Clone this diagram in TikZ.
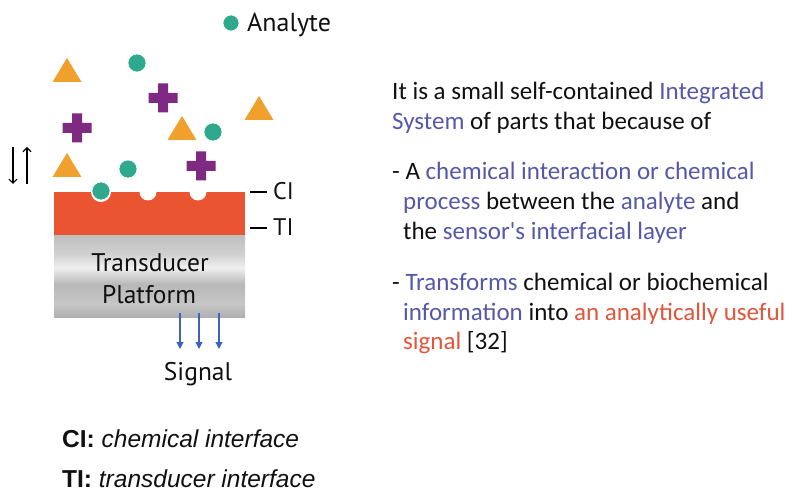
\documentclass[tikz,border=0pt]{standalone}
\usepackage{fontspec}
\setmainfont{PT Sans}
\newfontfamily\arialf{Liberation Sans}
\newfontfamily\calf{Carlito}
\usetikzlibrary{arrows.meta}
\definecolor{tealc}{HTML}{2EA98E}
\definecolor{orangec}{HTML}{F0A02C}
\definecolor{purplec}{HTML}{7E2A82}
\definecolor{redlayer}{HTML}{EA5430}
\definecolor{txtblue}{HTML}{5558A8}
\definecolor{txtred}{HTML}{E2553A}
\definecolor{txtblack}{HTML}{101010}
\definecolor{sigblue}{HTML}{3F62C0}
\pgfdeclareverticalshading{platformshade}{100bp}{
  color(0bp)=(black!26);
  color(21bp)=(black!36);
  color(33bp)=(black!22);
  color(45bp)=(black!28);
  color(55bp)=(black!6);
  color(63bp)=(black!18);
  color(82bp)=(black!30);
  color(100bp)=(black!36)}
\tikzset{
  x=1pt,y=-1pt,
  analyte/.style={circle,fill=tealc,draw=white,line width=0.6pt,minimum size=18pt,inner sep=0pt},
  triangleshape/.pic={\fill[orangec] (-14.5,12) -- (14.5,12) -- (0,-12) -- cycle;},
  plusshape/.pic={\fill[purplec] (-5,-14.5) -- (5,-14.5) -- (5,-5) -- (14.5,-5) -- (14.5,5) -- (5,5) -- (5,14.5) -- (-5,14.5) -- (-5,5) -- (-14.5,5) -- (-14.5,-5) -- (-5,-5) -- cycle;},
  maintext/.style={anchor=base west,inner sep=0pt,font=\calf\fontsize{25}{28}\selectfont,text=txtblack},
  lbl/.style={anchor=base west,inner sep=0pt,font=\fontsize{24}{27}\selectfont,text=txtblack},
  bigtxt/.style={anchor=base,inner sep=0pt,font=\fontsize{25.5}{28}\selectfont,text=txtblack},
  legtxt/.style={anchor=base west,inner sep=0pt,font=\arialf\fontsize{24.5}{28}\selectfont,text=txtblack},
  sigarrow/.style={draw=sigblue,line width=1.2pt,-{Triangle[length=7pt,width=7pt]}},
  bidarrow/.style={draw=black,line width=1.1pt,-{Straight Barb[length=4pt,width=8pt]}},
}
\begin{document}
\begin{tikzpicture}
\useasboundingbox (0,0) rectangle (796,492);
% legend
\node[analyte,minimum size=16pt] (legdot) at (231,23) {};
\node[lbl,font=\fontsize{26}{29}\selectfont] (legtxt) at (247,32) {Analyte};
% triangles
\pic at (67,70) {triangleshape};
\pic at (259,108) {triangleshape};
\pic at (182,128) {triangleshape};
\pic at (67,165) {triangleshape};
% crosses
\pic at (163,98) {plusshape};
\pic at (77,128) {plusshape};
\pic at (201,166) {plusshape};
% free analytes
\node[analyte] (a1) at (137,63) {};
\node[analyte] (a2) at (213,132) {};
\node[analyte] (a3) at (128,169) {};
% layers
\shade[shading=platformshade] (54,235) rectangle (245,317);
\fill[redlayer] (54,192) rectangle (245,235);
\fill[white] (148,192) circle (8.5);
\fill[white] (198,192) circle (8.5);
\fill[white] (101,192) circle (10);
\node[analyte] (a4) at (101,191) {};
% labels CI, TI
\coordinate (cistart) at (250,192);
\coordinate (ciend) at (267,192);
\draw[line width=1.3pt] (cistart) -- (ciend);
\node[lbl] (ci) at (273,200) {CI};
\coordinate (tistart) at (250,228);
\coordinate (tiend) at (267,228);
\draw[line width=1.3pt] (tistart) -- (tiend);
\node[lbl] (ti) at (273,236) {TI};
% platform text
\node[bigtxt] (tr) at (150,272) {Transducer};
\node[bigtxt] (pf) at (149,303) {Platform};
% double arrow
\coordinate (d1) at (13,147);
\coordinate (d2) at (13,184);
\coordinate (u1) at (27,184);
\coordinate (u2) at (27,147);
\draw[bidarrow] (d1) -- (d2);
\draw[bidarrow] (u1) -- (u2);
% signal arrows
\foreach \xx/\nm in {180/s1,199/s2,219/s3}{
  \coordinate (\nm a) at (\xx,313);
  \coordinate (\nm b) at (\xx,349);
  \draw[sigarrow] (\nm a) -- (\nm b);
}
\node[bigtxt] (sig) at (198,380) {Signal};
% bottom legend
\node[legtxt] (cileg) at (62,447) {\textbf{CI:} \textit{chemical interface}};
\node[legtxt] (tileg) at (62,487) {\textbf{TI:} \textit{transducer interface}};
% right text
\node[maintext] (l1) at (392,100) {It is a small self-contained \textcolor{txtblue}{Integrated}};
\node[maintext] (l2) at (392,130) {\textcolor{txtblue}{System} of parts that because of};
\node[maintext] (l3) at (392,180) {- A \textcolor{txtblue}{chemical interaction or chemical}};
\node[maintext] (l4) at (403,210) {\textcolor{txtblue}{process} between the \textcolor{txtblue}{analyte} and};
\node[maintext] (l5) at (403,240) {the \textcolor{txtblue}{sensor's interfacial layer}};
\node[maintext] (l6) at (392,290) {- \textcolor{txtblue}{Transforms} chemical or biochemical};
\node[maintext] (l7) at (403,320) {\textcolor{txtblue}{information} into \textcolor{txtred}{an analytically useful}};
\node[maintext] (l8) at (403,349) {\textcolor{txtred}{signal} [32]};
\end{tikzpicture}
\end{document}
